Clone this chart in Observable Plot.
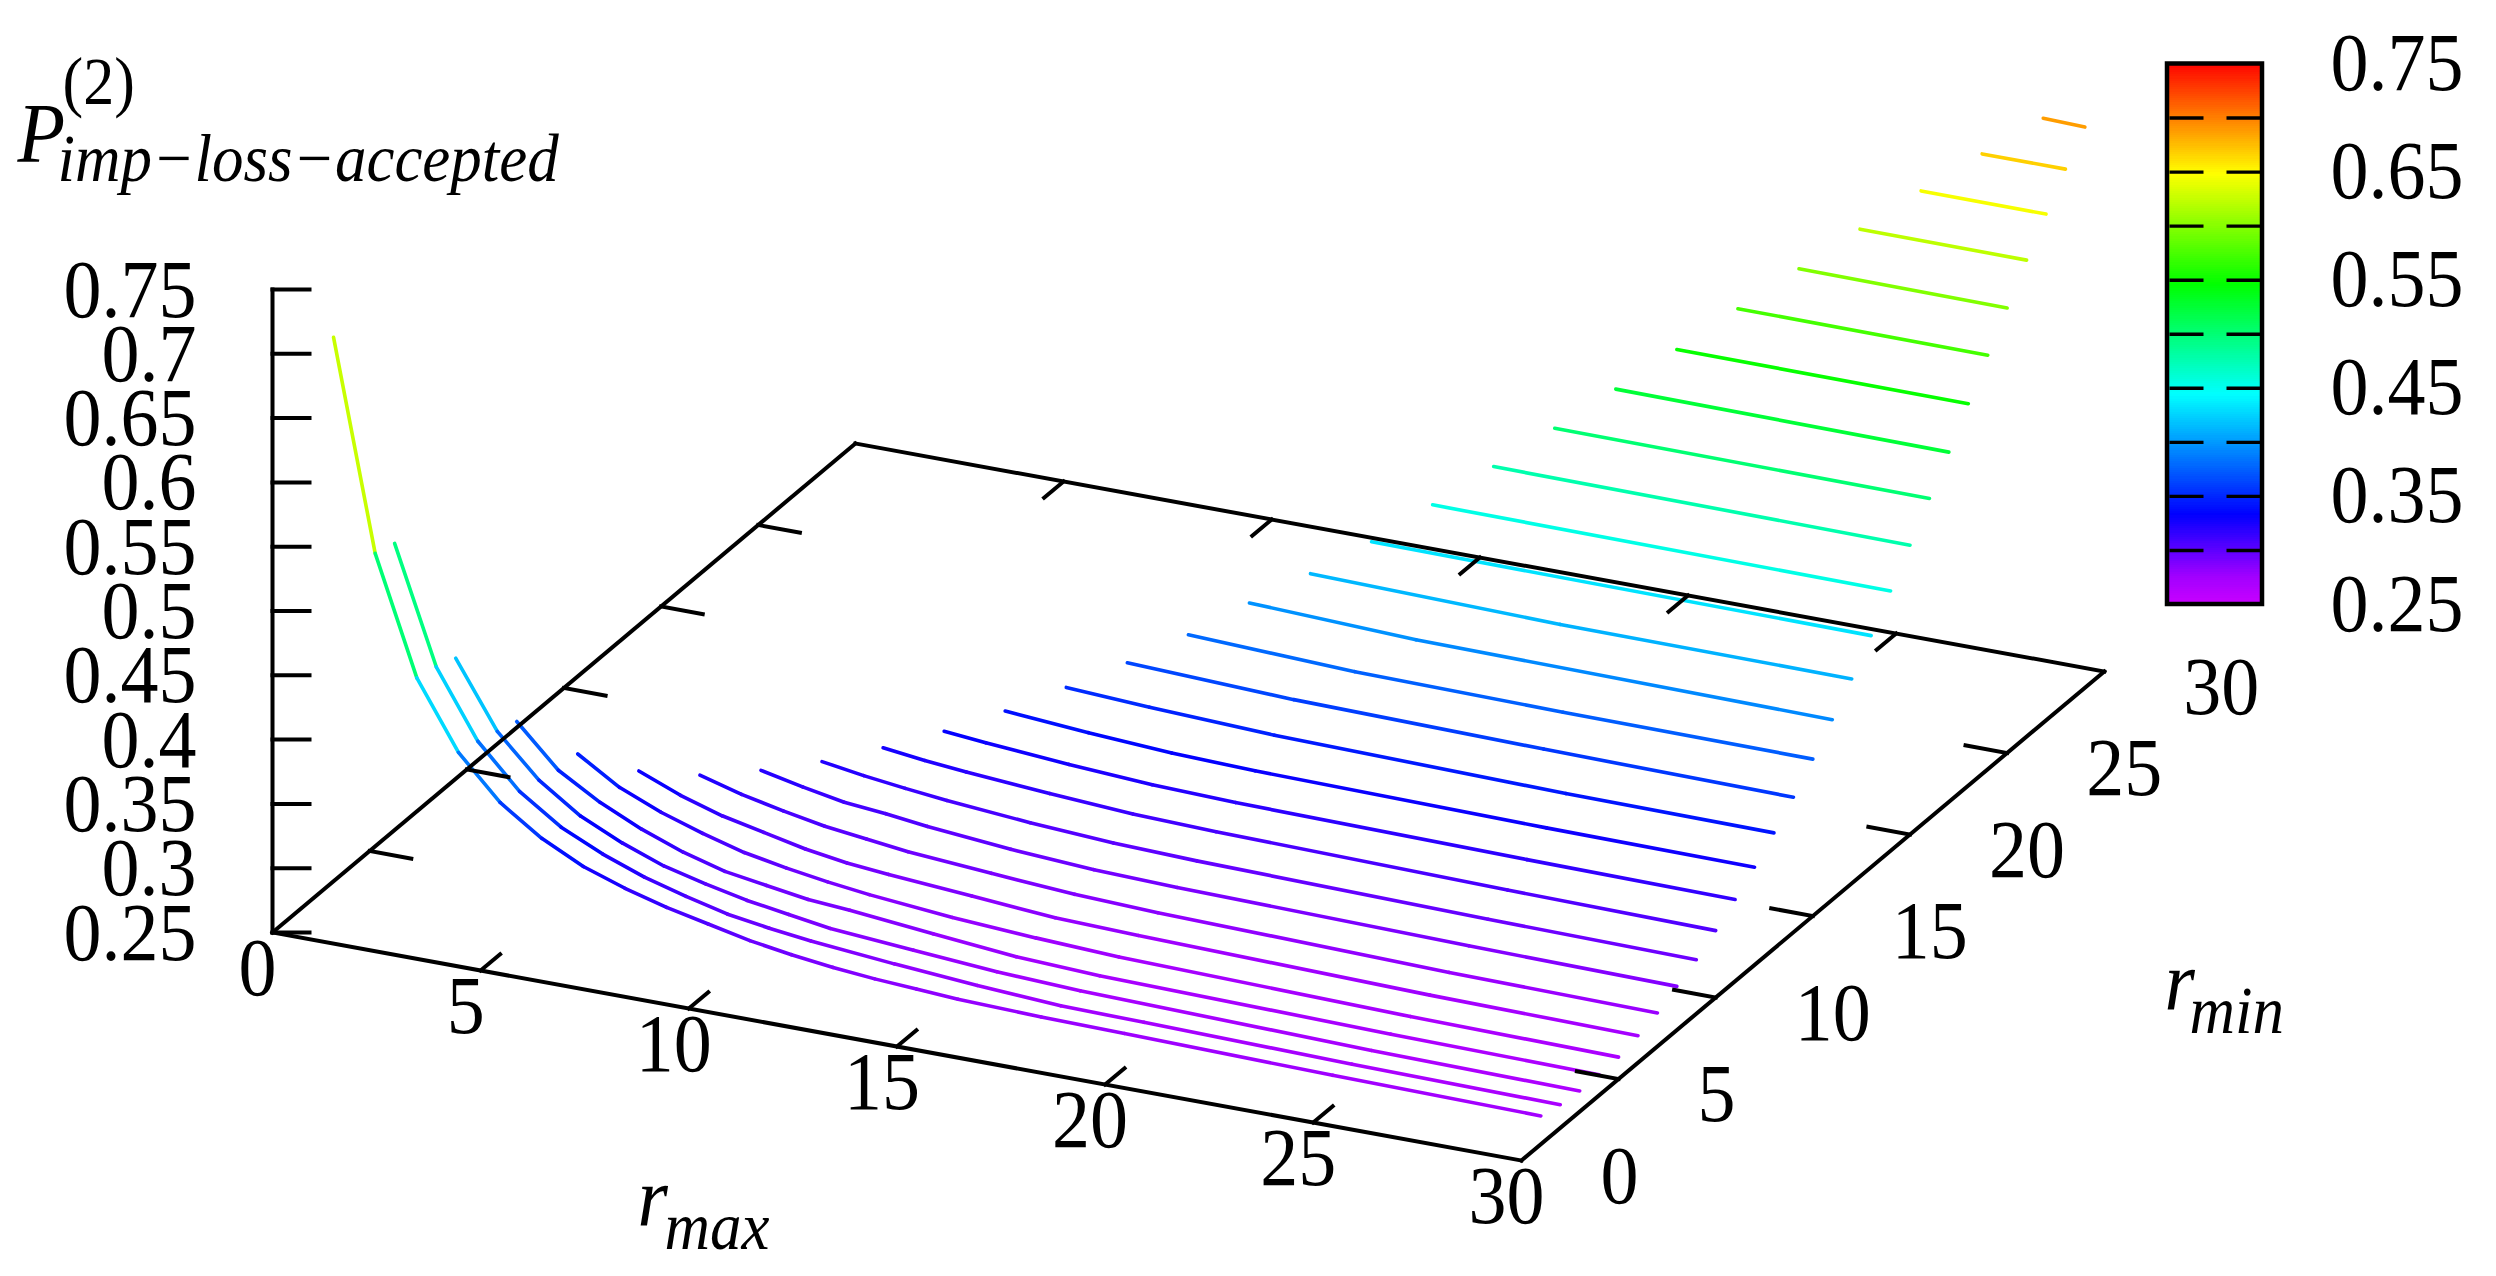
<!DOCTYPE html>
<html>
<head>
<meta charset="utf-8">
<style>html,body{margin:0;padding:0;background:#fff}svg{display:block}</style>
<script src="https://cdn.jsdelivr.net/npm/d3@7"></script>
<script src="https://cdn.jsdelivr.net/npm/@observablehq/plot@0.6"></script>
</head>
<body>
<div id="chart"></div>
<script>
// one entry per curve: r_min, the r_max values read, the P values read at them
const rminValues = [1,2,3,4,5,6,7,8,9,10,11,12,13,14,15,16,17,18,19,20,21,22,23,24,25,26,27,28,29];
const rmaxRead = [
  [1,2,3,4,5,6,7,8,9,10,11,12,13,14,15,16,18,20,25,30],
  [2,3,4,5,6,7,8,9,10,11,12,14,16,18,20,25,30],
  [3,4,5,6,7,8,9,10,11,12,14,16,18,25,30],
  [4,5,6,7,8,9,10,11,12,14,16,18,25,30],
  [5,6,7,8,9,10,11,12,14,16,18,25,30],
  [6,7,8,9,10,11,12,14,16,18,25,30],
  [7,8,9,10,11,12,14,16,18,25,30],
  [8,9,10,11,12,14,16,18,25,30],
  [9,10,11,12,14,16,18,25,30],
  [10,11,12,14,16,18,25,30],
  [11,12,14,16,18,25,30],
  [12,14,16,18,25,30],
  [13,15,18,25,30],
  [14,18,24,30],
  [15,19,24,30],
  [16,20,30],
  [17,23,30],
  [18,30],[19,30],[20,30],[21,30],[22,30],[23,30],[24,30],[25,30],[26,30],[27,30],[28,30],[29,30]
];
const pRead = [
  [.706,.544,.453,.401,.368,.346,.330,.319,.310,.303,.296,.291,.287,.284,.282,.280,.278,.277,.274,.272],
  [.539,.449,.397,.364,.342,.327,.315,.306,.298,.293,.289,.283,.278,.274,.273,.270,.268],
  [.443,.392,.360,.338,.323,.311,.303,.296,.291,.286,.281,.276,.273,.268,.266],
  [.387,.355,.336,.321,.309,.300,.295,.290,.2875,.281,.275,.272,.268,.266],
  [.355,.335,.3215,.311,.302,.296,.291,.287,.281,.277,.274,.269,.267],
  [.335,.322,.312,.305,.298,.293,.290,.285,.280,.278,.273,.271],
  [.325,.316,.309,.303,.299,.295,.290,.2855,.283,.278,.276],
  [.322,.315,.309,.306,.302,.296,.292,.290,.286,.284],
  [.322,.317,.313,.3095,.304,.300,.298,.294,.292],
  [.326,.322,.319,.314,.310,.308,.304,.302],
  [.332,.329,.324,.320,.318,.315,.3135],
  [.341,.336,.332,.330,.327,.326],
  [.3526,.349,.345,.341,.340],
  [.365,.360,.357,.355],
  [.380,.375,.373,.372],
  [.398,.393,.390],
  [.414,.410,.409],
  [.432,.430],[.454,.452],[.477,.475],[.500,.4986],[.5237,.522],[.5477,.547],[.5727,.572],[.597,.596],[.621,.6206],[.644,.6437],[.666,.666],[.687,.686]
];
const rmaxTicks = [5,10,15,20,25];
const rminTicks = [5,10,15,20,25];
const rTickLabels = [0,5,10,15,20,25,30];
const zTicks = [0.25,0.3,0.35,0.4,0.45,0.5,0.55,0.6,0.65,0.7,0.75];
const zTickLabels = ["0.25","0.3","0.35","0.4","0.45","0.5","0.55","0.6","0.65","0.7","0.75"];
const barMinorTicks = [0.3,0.35,0.4,0.45,0.5,0.55,0.6,0.65,0.7];
const barLabels = ["0.25","0.35","0.45","0.55","0.65","0.75"];
const paletteStops = [0.25,0.275,0.332,0.443,0.545,0.647,0.75];
const paletteColors = ["#c800ff","#a000ff","#0000ff","#00ffff","#00ff00","#ffff00","#ff0000"];

// gnuplot-style view: one unit of each data axis as a page vector
const view = {ox:272, oy:932, rmaxX:41.63, rmaxY:7.6, rminX:19.43, rminY:-16.3, pY:-1286, pBase:0.25};
const sx = (rmax, rmin) => view.ox + view.rmaxX*rmax + view.rminX*rmin;
const sy = (rmax, rmin, p=view.pBase) => view.oy + view.rmaxY*rmax + view.rminY*rmin + view.pY*(p-view.pBase);
const bar = {x0:2167, x1:2262, yLow:604, yPerUnit:-1081};
const by = v => bar.yLow + bar.yPerUnit*(v-0.25);

const segments = [];
rminValues.forEach((m,i) => {
  const rs = rmaxRead[i], ps = pRead[i];
  for (let j=0;j<rs.length-1;j++) segments.push({
    x1:sx(rs[j],m), y1:sy(rs[j],m,ps[j]), x2:sx(rs[j+1],m), y2:sy(rs[j+1],m,ps[j+1]), v:(ps[j]+ps[j+1])/2
  });
});

const seg = (x1,y1,x2,y2) => ({x1,y1,x2,y2});
const box = [
  seg(sx(0,0),sy(0,0),sx(30,0),sy(30,0)),
  seg(sx(30,0),sy(30,0),sx(30,30),sy(30,30)),
  seg(sx(30,30),sy(30,30),sx(0,30),sy(0,30)),
  seg(sx(0,30),sy(0,30),sx(0,0),sy(0,0))
];
const axisLines = [
  ...box,
  seg(sx(0,0),sy(0,0,0.25),sx(0,0),sy(0,0,0.75)),
  ...rmaxTicks.flatMap(r => [seg(sx(r,0),sy(r,0),sx(r,1),sy(r,1)), seg(sx(r,30),sy(r,30),sx(r,29),sy(r,29))]),
  ...rminTicks.flatMap(m => [seg(sx(0,m),sy(0,m),sx(1,m),sy(1,m)), seg(sx(30,m),sy(30,m),sx(29,m),sy(29,m))]),
  ...zTicks.map(z => seg(sx(0,0),sy(0,0,z),sx(0,0)+37,sy(0,0,z)))
];
const barTicks = barMinorTicks.flatMap(v => [seg(bar.x0+2,by(v),bar.x0+36,by(v)), seg(bar.x1-36,by(v),bar.x1-2,by(v))]);
const barBands = d3.range(0,250).map(i => ({v0:0.25+i*0.002, v1:0.25+(i+1)*0.002}));

const font = "Liberation Serif";
const txt = (rows, o) => Plot.text(rows, {x:"x", y:"y", text:"t", fontFamily:font, fill:"black", lineAnchor:"bottom", ...o});

const plot = Plot.plot({
  width:2496, height:1276, margin:0,
  style:{background:"white", fontFamily:font},
  x:{domain:[0,2496], range:[0,2496], axis:null},
  y:{domain:[0,1276], range:[0,1276], axis:null},
  color:{type:"linear", domain:paletteStops, range:paletteColors, interpolate:"rgb", clamp:true},
  marks:[
    Plot.link(segments, {x1:"x1", y1:"y1", x2:"x2", y2:"y2", stroke:"v", strokeWidth:3.6, strokeLinecap:"round"}),
    Plot.link(axisLines, {x1:"x1", y1:"y1", x2:"x2", y2:"y2", stroke:"black", strokeWidth:4, strokeLinecap:"square"}),
    Plot.rect(barBands, {x1:bar.x0, x2:bar.x1, y1:d=>by(d.v0), y2:d=>by(d.v1)-1.5, fill:"v0", shapeRendering:"crispEdges"}),
    Plot.rect([{}], {x1:bar.x0, x2:bar.x1, y1:by(0.25), y2:by(0.75), fill:"none", stroke:"black", strokeWidth:4.5}),
    Plot.link(barTicks, {x1:"x1", y1:"y1", x2:"x2", y2:"y2", stroke:"black", strokeWidth:3.4}),
    txt(zTickLabels.map((t,i)=>({t, x:sx(0,0)-76, y:sy(0,0,zTicks[i])+27})), {fontSize:76, textAnchor:"end"}),
    txt(rTickLabels.map(r=>({t:String(r), x:sx(r,0)-15, y:sy(r,0)+62})), {fontSize:76, textAnchor:"middle"}),
    txt(rTickLabels.map(m=>({t:String(m), x:sx(30,m)+79, y:sy(30,m)+42})), {fontSize:76, textAnchor:"start"}),
    txt(barLabels.map(t=>({t, x:2330, y:by(+t)+26})), {fontSize:76, textAnchor:"start"}),
    txt([{t:"P", x:17, y:161}], {fontSize:78, fontStyle:"italic", textAnchor:"start"}),
    txt([{t:"(2)", x:62, y:103}], {fontSize:62, textAnchor:"start"}),
    txt([{t:"imp\u2212loss\u2212accepted", x:57, y:180}], {fontSize:63, fontStyle:"italic", textAnchor:"start"}),
    txt([{t:"r", x:637, y:1225}], {fontSize:78, fontStyle:"italic", textAnchor:"start"}),
    txt([{t:"max", x:664, y:1248}], {fontSize:63, fontStyle:"italic", textAnchor:"start"}),
    txt([{t:"r", x:2164, y:1009}], {fontSize:78, fontStyle:"italic", textAnchor:"start"}),
    txt([{t:"min", x:2189, y:1032}], {fontSize:63, fontStyle:"italic", textAnchor:"start"})
  ]
});
// the reference's glyphs are slightly taller than a plain Times face
d3.select(plot).selectAll("text").attr("transform", function(){ return (this.getAttribute("transform")||"") + " scale(1,1.08)"; });
document.getElementById("chart").append(plot);
</script>
</body>
</html>
